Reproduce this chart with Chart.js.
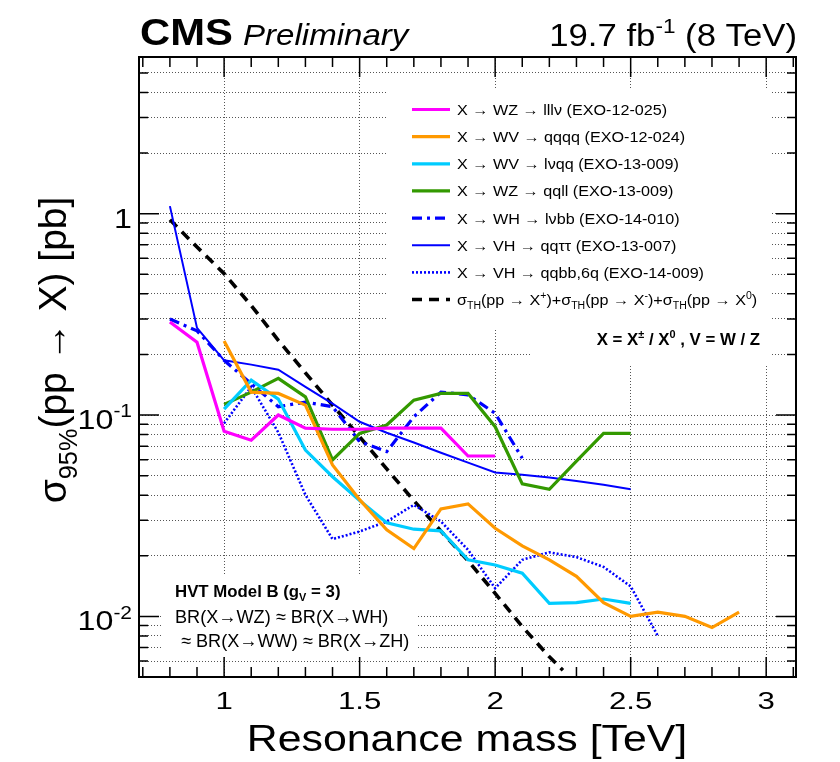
<!DOCTYPE html>
<html><head><meta charset="utf-8">
<script src="https://cdn.jsdelivr.net/npm/chart.js@4.4.1/dist/chart.umd.min.js"></script>
<style>html,body{margin:0;padding:0;background:#fff}#wrap{width:840px;height:762px}</style>
</head><body><div id="wrap"><canvas id="c" width="840" height="762"></canvas></div>
<script>
// ---------------- data ----------------
const massLLLV = [0.8,0.9,1.0,1.1,1.2,1.3,1.4,1.5,1.6,1.7,1.8,1.9,2.0];
const limLLLV  = [0.29,0.23,0.083,0.075,0.100,0.086,0.085,0.085,0.086,0.086,0.086,0.0626,0.0626];

const massQQQQ = [1.0,1.1,1.2,1.3,1.4,1.5,1.6,1.7,1.8,1.9,2.0,2.1,2.2,2.3,2.4,2.5,2.6,2.7,2.8,2.9];
const limQQQQ  = [0.233,0.130,0.128,0.112,0.0565,0.038,0.0269,0.0217,0.0342,0.0362,0.0274,0.0224,0.0191,0.0158,0.0117,0.0100,0.0105,0.0100,0.0088,0.0105];

const massLVQQ = [1.0,1.1,1.2,1.3,1.4,1.5,1.6,1.7,1.8,1.9,2.0,2.1,2.2,2.3,2.4,2.5];
const limLVQQ  = [0.107,0.149,0.120,0.067,0.0494,0.0376,0.0292,0.0271,0.0266,0.0191,0.0180,0.0164,0.0116,0.0117,0.0122,0.0116];

const massQQLL = [1.0,1.1,1.2,1.3,1.4,1.5,1.6,1.7,1.8,1.9,2.0,2.1,2.2,2.3,2.4,2.5];
const limQQLL  = [0.113,0.130,0.152,0.123,0.0598,0.081,0.0892,0.1186,0.128,0.128,0.0875,0.0455,0.0428,0.059,0.081,0.081];

const massLVBB = [0.8,0.9,1.0,1.1,1.2,1.3,1.4,1.5,1.6,1.7,1.8,1.9,2.0,2.1];
const limLVBB  = [0.30,0.262,0.187,0.143,0.110,0.116,0.110,0.0738,0.0658,0.098,0.130,0.126,0.102,0.061];

const massQQTT = [0.8,0.9,1.0,1.1,1.2,1.3,1.4,1.5,1.6,1.7,1.8,1.9,2.0,2.1,2.2,2.3,2.4,2.5];
const limQQTT  = [1.09,0.271,0.187,0.178,0.168,0.138,0.114,0.0926,0.0817,0.073,0.065,0.058,0.0518,0.0505,0.049,0.047,0.045,0.0428];

const massQQBB = [1.0,1.1,1.2,1.3,1.4,1.5,1.6,1.7,1.8,1.9,2.0,2.1,2.2,2.3,2.4,2.5,2.6];
const limQQBB  = [0.091,0.138,0.082,0.0401,0.0242,0.0264,0.0296,0.0358,0.0296,0.0214,0.0138,0.0191,0.0208,0.0197,0.0176,0.0141,0.0080];

const massTH = [0.8,0.9,1.0,1.1,1.2,1.3,1.4,1.5,1.6,1.7,1.8,1.9,2.0,2.1,2.2,2.25];
const xsecTH = [0.933,0.683,0.504,0.350,0.235,0.162,0.112,0.078,0.054,0.0376,0.0265,0.0189,0.0130,0.0089,0.0063,0.0054];

const seriesLabels = [
  'X → WZ → lllν (EXO-12-025)',
  'X → WV → qqqq (EXO-12-024)',
  'X → WV → lνqq (EXO-13-009)',
  'X → WZ → qqll (EXO-13-009)',
  'X → WH → lνbb (EXO-14-010)',
  'X → VH → qqττ (EXO-13-007)',
  'X → VH → qqbb,6q (EXO-14-009)',
  'σ_{TH}(pp → X^{+})+σ_{TH}(pp → X^{-})+σ_{TH}(pp → X^{0})'
];

// axis ranges and tick labels
const X_MIN = 0.686, X_MAX = 3.11;
const Y_MIN = 0.005, Y_MAX = 6;
const xMajorTicks = [1, 1.5, 2, 2.5, 3];
const xTickLabels = ['1', '1.5', '2', '2.5', '3'];
const xMinorTicks = [];
for (let i = 7; i <= 31; i++) xMinorTicks.push(i / 10);
const yTickValues = [];
for (let e = -3; e <= 0; e++) for (let s = 1; s <= 9; s++) {
  const v = +(s * Math.pow(10, e)).toPrecision(3);
  if (v >= Y_MIN - 1e-12 && v <= Y_MAX + 1e-12) yTickValues.push(v);
}
const yMajorTicks = [0.01, 0.1, 1];
const yTickLabels = ['10^{-2}', '10^{-1}', '1'];

const xTitle = 'Resonance mass [TeV]';
const yTitle = 'σ_{95%}(pp → X) [pb]';

// ---------------- helpers ----------------
const pts = (xs, ys) => xs.map((x, i) => ({x, y: ys[i]}));
function parseRich(str) {
  const segs = []; let i = 0, buf = '';
  while (i < str.length) {
    if ((str[i] === '_' || str[i] === '^') && str[i + 1] === '{') {
      if (buf) { segs.push({t: buf, k: 0}); buf = ''; }
      const end = str.indexOf('}', i);
      segs.push({t: str.slice(i + 2, end), k: str[i] === '_' ? -1 : 1});
      i = end + 1;
    } else { buf += str[i]; i++; }
  }
  if (buf) segs.push({t: buf, k: 0});
  return segs;
}
function drawRich(ctx, str, x, y, o) {
  const size = o.size, fam = o.family || '"Liberation Sans", Arial, sans-serif';
  const pre = (o.style || '') + ' ' + (o.weight || '') + ' ';
  const sx = o.sx || 1;
  const segs = parseRich(str);
  const fontFor = k => pre + (k ? size * 0.65 : size) + 'px ' + fam;
  let w = 0;
  for (const s of segs) { ctx.font = fontFor(s.k); s.w = ctx.measureText(s.t).width; w += s.w; }
  ctx.save();
  ctx.translate(x, y);
  if (o.rot) ctx.rotate(o.rot);
  ctx.scale(sx, 1);
  let cx = o.align === 'right' ? -w : o.align === 'center' ? -w / 2 : 0;
  ctx.fillStyle = o.color || '#000';
  ctx.textBaseline = 'alphabetic';
  ctx.textAlign = 'left';
  for (const s of segs) {
    ctx.font = fontFor(s.k);
    const dy = s.k === -1 ? size * 0.28 : s.k === 1 ? -size * 0.42 : 0;
    ctx.fillText(s.t, cx, dy);
    cx += s.w;
  }
  ctx.restore();
}

// white boxes (legend / text panels) that hide the grid
const panels = [
  {x: 386, y: 88, w: 386, h: 240},
  {x: 530, y: 328, w: 242, h: 38},
  {x: 162, y: 575, w: 256, h: 80}
];

const cmsPlugin = {
  id: 'cms',
  beforeDatasetsDraw(chart) {
    const ctx = chart.ctx;
    ctx.save(); ctx.fillStyle = '#fff';
    for (const p of panels) ctx.fillRect(p.x, p.y, p.w, p.h);
    ctx.restore();
  },
  afterDatasetsDraw(chart) {
    const ctx = chart.ctx, a = chart.chartArea;
    const xs = chart.scales.x, ys = chart.scales.y;
    ctx.save();
    // frame
    ctx.strokeStyle = '#000'; ctx.lineWidth = 2;
    ctx.strokeRect(a.left, a.top, a.right - a.left, a.bottom - a.top);
    // ticks
    ctx.lineWidth = 1.5; ctx.beginPath();
    for (const v of xMinorTicks) {
      const px = xs.getPixelForValue(v);
      const L = xMajorTicks.some(m => Math.abs(m - v) < 1e-9) ? 20 : 10;
      ctx.moveTo(px, a.bottom); ctx.lineTo(px, a.bottom - L);
      ctx.moveTo(px, a.top); ctx.lineTo(px, a.top + L);
    }
    for (const v of yTickValues) {
      const py = ys.getPixelForValue(v);
      const L = yMajorTicks.some(m => Math.abs(m - v) < 1e-12) ? 20 : 9;
      ctx.moveTo(a.left, py); ctx.lineTo(a.left + L, py);
      ctx.moveTo(a.right, py); ctx.lineTo(a.right - L, py);
    }
    ctx.stroke();
    ctx.restore();

    // tick labels
    xMajorTicks.forEach((v, i) => drawRich(ctx, xTickLabels[i], xs.getPixelForValue(v), 709, {size: 24, align: 'center', sx: 1.3}));
    yMajorTicks.forEach((v, i) => drawRich(ctx, yTickLabels[i], 132, ys.getPixelForValue(v) + 14, {size: 28, align: 'right', sx: 1.15}));

    // axis titles
    drawRich(ctx, xTitle, 467, 751, {size: 36, align: 'center', sx: 1.19});
    drawRich(ctx, yTitle, 66, 350, {size: 39, align: 'center', rot: -Math.PI / 2, sx: 1.0});

    // header
    drawRich(ctx, 'CMS', 140, 45, {size: 36, weight: 'bold', sx: 1.16});
    drawRich(ctx, 'Preliminary', 243, 45, {size: 29, style: 'italic', sx: 1.14});
    drawRich(ctx, '19.7 fb^{-1} (8 TeV)', 797, 46, {size: 31, align: 'right', sx: 1.12});

    // legend
    const ds = chart.data.datasets;
    ds.forEach((d, i) => {
      const cy = 109.5 + i * 27.15;
      ctx.save();
      ctx.strokeStyle = d.borderColor; ctx.lineWidth = d.borderWidth;
      ctx.setLineDash(d.borderDash || []);
      ctx.beginPath(); ctx.moveTo(412, cy); ctx.lineTo(450, cy); ctx.stroke();
      ctx.restore();
      drawRich(ctx, seriesLabels[i], 457, cy + 5.5, {size: 15.4, sx: 1.05});
    });
    drawRich(ctx, 'X = X^{±} / X^{0} , V = W / Z', 760, 345, {size: 16, weight: 'bold', align: 'right', sx: 1.05});

    // model text
    drawRich(ctx, 'HVT Model B (g_{V} = 3)', 175, 597, {size: 16, weight: 'bold', sx: 1.05});
    drawRich(ctx, 'BR(X→WZ) ≈ BR(X→WH)', 175, 623, {size: 18.5, sx: 0.98});
    drawRich(ctx, ' ≈ BR(X→WW) ≈ BR(X→ZH)', 176, 647, {size: 18.5, sx: 0.98});
  }
};

const mk = (label, data, color, width, dash) => ({
  label, data, borderColor: color, backgroundColor: color, borderWidth: width,
  borderDash: dash, pointRadius: 0, fill: false, tension: 0, borderCapStyle: 'butt', borderJoinStyle: 'miter'
});

new Chart(document.getElementById('c'), {
  type: 'line',
  data: {
    datasets: [
      mk(seriesLabels[0], pts(massLLLV, limLLLV), '#ff00ff', 3.2, []),
      mk(seriesLabels[1], pts(massQQQQ, limQQQQ), '#ff9900', 3.2, []),
      mk(seriesLabels[2], pts(massLVQQ, limLVQQ), '#00ccff', 3.2, []),
      mk(seriesLabels[3], pts(massQQLL, limQQLL), '#339900', 3.2, []),
      mk(seriesLabels[4], pts(massLVBB, limLVBB), '#0000ff', 3.2, [10, 5, 3, 5]),
      mk(seriesLabels[5], pts(massQQTT, limQQTT), '#0000ff', 2, []),
      mk(seriesLabels[6], pts(massQQBB, limQQBB), '#0000ff', 2.6, [2, 2]),
      mk(seriesLabels[7], pts(massTH, xsecTH), '#000000', 3.6, [10, 7])
    ]
  },
  options: {
    responsive: false, animation: false, devicePixelRatio: 1,
    layout: {padding: {left: 139, top: 57, right: 44, bottom: 85}},
    plugins: {legend: {display: false}, tooltip: {enabled: false}},
    scales: {
      x: {
        type: 'linear', min: X_MIN, max: X_MAX,
        afterBuildTicks: s => { s.ticks = xMajorTicks.map(v => ({value: v})); },
        ticks: {display: false},
        grid: {drawTicks: false, color: '#555', lineWidth: 1},
        border: {display: false, dash: [1, 2]}
      },
      y: {
        type: 'logarithmic', min: Y_MIN, max: Y_MAX,
        afterBuildTicks: s => { s.ticks = yTickValues.map(v => ({value: v})); },
        ticks: {display: false},
        grid: {drawTicks: false, color: '#555', lineWidth: 1},
        border: {display: false, dash: [1, 2]}
      }
    }
  },
  plugins: [cmsPlugin]
});
</script></body></html>
